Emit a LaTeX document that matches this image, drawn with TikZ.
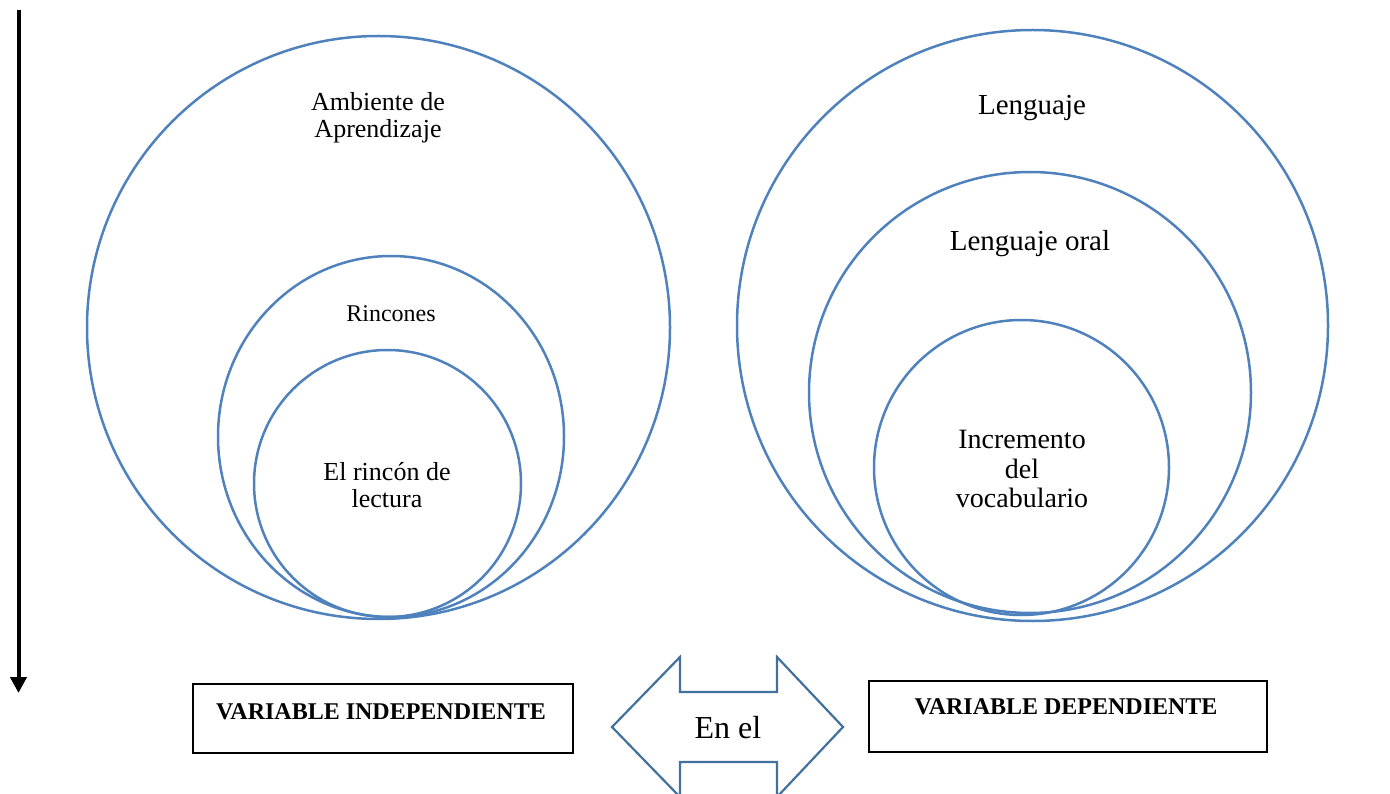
\documentclass[tikz,border=0pt]{standalone}
\usepackage{fontspec}
\setmainfont{Liberation Serif}
\usepackage{xcolor}
\usepackage{tikz}
\usetikzlibrary{positioning,calc,arrows.meta}

\definecolor{ringblue}{RGB}{79,129,189}
\definecolor{arrowblue}{RGB}{65,113,156}

\tikzset{
    ring/.style={draw=ringblue, line width=2.5pt},
    label/.style={align=center, font=\fontsize{26}{27}\selectfont},
    varbox/.style={draw, line width=2.6pt, align=center}
}

\begin{document}
\begin{tikzpicture}[x=1pt, y=-1pt]
    \useasboundingbox (0,0) rectangle (1390,794);

    % Left circles
    \draw[ring] (378.5,327.5) circle (291.5);
    \draw[ring] (391,436.5) ellipse [x radius=173, y radius=180.5];
    \draw[ring] (387.5,483.5) circle (133.5);
    \node[label] (ambiente) at (378,118) {Ambiente de\\Aprendizaje};
    \node[label, font=\fontsize{24}{26}\selectfont] (rincones) at (391,314) {Rincones};
    \node[label] (rincon) at (387,485) {El rincón de\\lectura};

    % Right circles
    \draw[ring] (1032.5,325.5) circle (295.5);
    \draw[ring] (1030,392.5) ellipse [x radius=221, y radius=220.5];
    \draw[ring] (1021.5,467.5) circle (147.5);
    \node[label, font=\fontsize{29}{30}\selectfont] (lenguaje) at (1032,108) {Lenguaje};
    \node[label, font=\fontsize{29}{30}\selectfont] (oral) at (1030,244) {Lenguaje oral};
    \node[label, font=\fontsize{28}{29.5}\selectfont] (vocab) at (1022,469) {Incremento\\del\\vocabulario};

    % Vertical arrow
    \coordinate (top) at (18.5,10);
    \coordinate (bottom) at (18.5,693);
    \draw[line width=4pt, -{Triangle[length=16pt, width=16pt]}] (top) -- (bottom);

    % Variable boxes
    \draw[varbox] (193,684) rectangle (573,753);
    \node[font=\fontsize{24}{26}\bfseries] (indep) at (381,712) {VARIABLE INDEPENDIENTE};
    \draw[varbox] (869,681) rectangle (1267,752);
    \node[font=\fontsize{24}{26}\bfseries] (dep) at (1066,707) {VARIABLE DEPENDIENTE};

    % Double arrow
    \draw[arrowblue, line width=2.2pt, line join=miter]
        (612,727) -- (680,657) -- (680,692) -- (777,692) -- (777,657)
        -- (843,727) -- (777,797) -- (777,762) -- (680,762) -- (680,797) -- cycle;
    \node[font=\fontsize{32}{34}\selectfont] (enel) at (728,728) {En el};
\end{tikzpicture}
\end{document}
